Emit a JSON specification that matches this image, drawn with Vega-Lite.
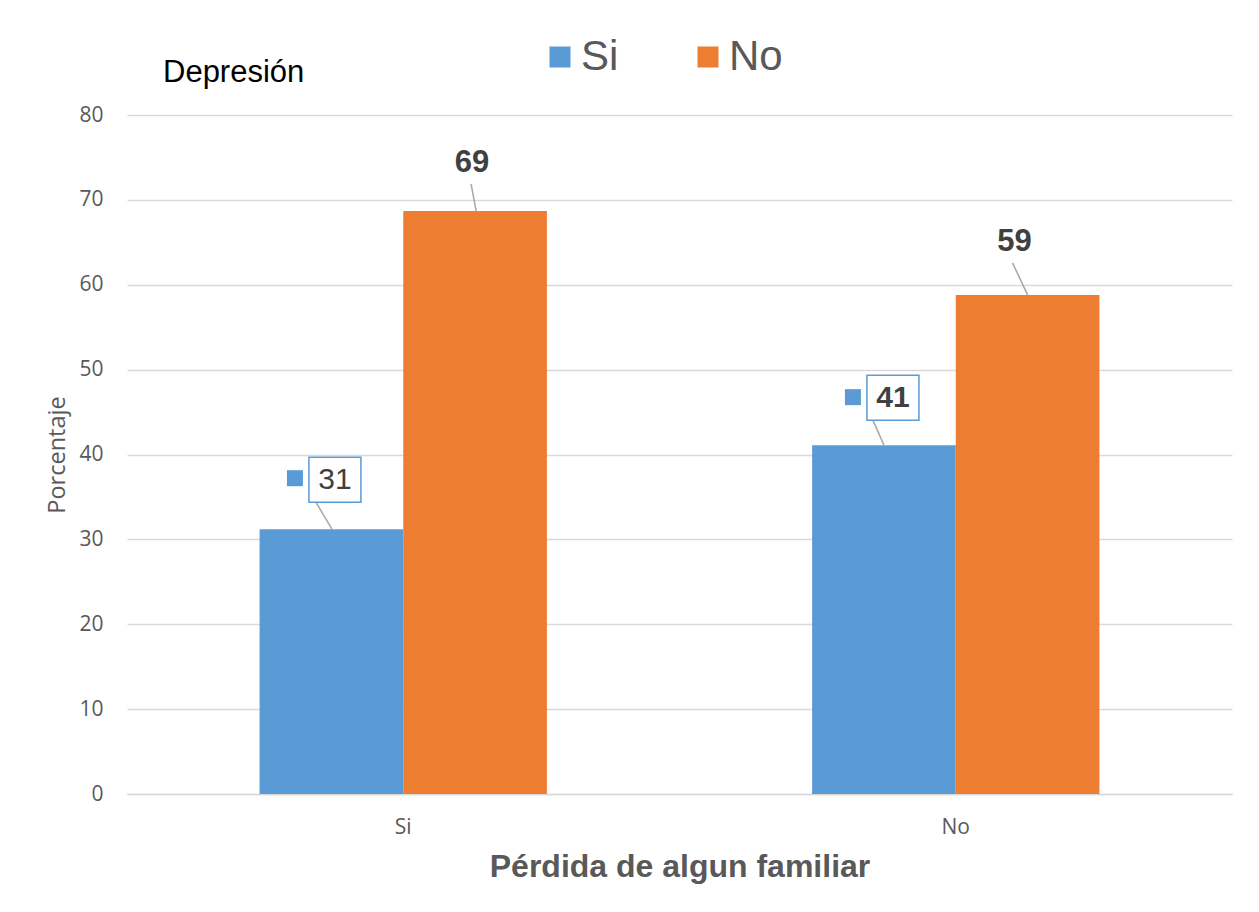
{
  "$schema": "https://vega.github.io/schema/vega-lite/v6.json",
  "width": 1105,
  "height": 679,
  "autosize": {"type": "none"},
  "padding": {"left": 127, "top": 115, "right": 27, "bottom": 118},
  "background": "#ffffff",
  "title": {
    "text": "Depresión",
    "anchor": "start",
    "frame": "group",
    "font": "Liberation Sans",
    "fontSize": 31,
    "fontWeight": "normal",
    "color": "#000000",
    "baseline": "alphabetic",
    "dx": 36,
    "offset": -77
  },
  "data": {
    "values": [
      {"grupo": "Si", "serie": "Si", "valor": 31.2},
      {"grupo": "Si", "serie": "No", "valor": 68.7},
      {"grupo": "No", "serie": "Si", "valor": 41.1},
      {"grupo": "No", "serie": "No", "valor": 58.8}
    ]
  },
  "encoding": {
    "y": {
      "field": "valor",
      "type": "quantitative",
      "scale": {"domain": [0, 80], "nice": false},
      "axis": {
        "title": "Porcentaje",
        "titleFont": "Open Sans",
        "titleFontSize": 23.5,
        "titleFontWeight": "normal",
        "titleColor": "#595959",
        "titlePadding": 9,
        "values": [0, 10, 20, 30, 40, 50, 60, 70, 80],
        "labelFont": "Open Sans",
        "labelFontSize": 21,
        "labelColor": "#595959",
        "labelPadding": 24,
        "ticks": false,
        "tickSize": 0,
        "domain": false,
        "gridColor": "#d9d9d9",
        "gridWidth": 1.5
      }
    }
  },
  "layer": [
    {
      "mark": {"type": "bar"},
      "encoding": {
        "x": {
          "field": "grupo",
          "type": "nominal",
          "sort": ["Si", "No"],
          "scale": {"paddingInner": 0.48, "paddingOuter": 0.24},
          "axis": {
            "title": "Pérdida de algun familiar",
            "titleFont": "Liberation Sans",
            "titleFontSize": 32,
            "titleFontWeight": "bold",
            "titleColor": "#595959",
            "titlePadding": 14,
            "labelFont": "Open Sans",
            "labelFontSize": 21,
            "labelColor": "#595959",
            "labelAngle": 0,
            "labelPadding": 22,
            "ticks": false,
            "tickSize": 0,
            "domainColor": "#d9d9d9",
            "domainWidth": 1.5
          }
        },
        "xOffset": {
          "field": "serie",
          "type": "nominal",
          "sort": ["Si", "No"],
          "scale": {"paddingInner": 0, "paddingOuter": 0}
        },
        "color": {
          "field": "serie",
          "type": "nominal",
          "sort": ["Si", "No"],
          "scale": {"domain": ["Si", "No"], "range": ["#5B9BD5", "#ED7D31"]},
          "legend": {
            "orient": "none",
            "direction": "horizontal",
            "legendX": 412,
            "legendY": -79,
            "title": null,
            "symbolType": "square",
            "symbolSize": 441,
            "symbolStrokeWidth": 0,
            "labelFont": "Liberation Sans",
            "labelFontSize": 42,
            "labelColor": "#595959",
            "labelOffset": 0,
            "columnPadding": 68,
            "padding": 0
          }
        }
      }
    },
    {
      "transform": [{"filter": "datum.grupo === 'Si' && datum.serie === 'Si'"}],
      "mark": {"type": "rule", "color": "#a6a6a6", "strokeWidth": 1.5, "xOffset": 0.5, "x2Offset": -15.5, "y2Offset": -27},
      "encoding": {
        "x": {"field": "grupo", "type": "nominal", "sort": ["Si", "No"], "bandPosition": 0.25},
        "x2": {"field": "grupo", "bandPosition": 0.25},
        "y2": {"field": "valor"}
      }
    },
    {
      "transform": [{"filter": "datum.grupo === 'No' && datum.serie === 'Si'"}],
      "mark": {"type": "rule", "color": "#a6a6a6", "strokeWidth": 1.5, "x2Offset": -11, "y2Offset": -25},
      "encoding": {
        "x": {"field": "grupo", "type": "nominal", "sort": ["Si", "No"], "bandPosition": 0.25},
        "x2": {"field": "grupo", "bandPosition": 0.25},
        "y2": {"field": "valor"}
      }
    },
    {
      "transform": [{"filter": "datum.grupo === 'Si' && datum.serie === 'No'"}],
      "mark": {"type": "rule", "color": "#a6a6a6", "strokeWidth": 1.5, "xOffset": 1, "x2Offset": -4, "y2Offset": -27},
      "encoding": {
        "x": {"field": "grupo", "type": "nominal", "sort": ["Si", "No"], "bandPosition": 0.75},
        "x2": {"field": "grupo", "bandPosition": 0.75},
        "y2": {"field": "valor"}
      }
    },
    {
      "transform": [{"filter": "datum.grupo === 'No' && datum.serie === 'No'"}],
      "mark": {"type": "rule", "color": "#a6a6a6", "strokeWidth": 1.5, "x2Offset": -15, "y2Offset": -32},
      "encoding": {
        "x": {"field": "grupo", "type": "nominal", "sort": ["Si", "No"], "bandPosition": 0.75},
        "x2": {"field": "grupo", "bandPosition": 0.75},
        "y2": {"field": "valor"}
      }
    },
    {
      "transform": [{"filter": "datum.grupo === 'Si' && datum.serie === 'Si'"}],
      "mark": {"type": "point", "shape": "M-1,-0.865H1V0.865H-1Z", "size": 2704, "filled": true, "fill": "#ffffff", "stroke": "#5B9BD5", "strokeWidth": 1.5, "opacity": 1, "xOffset": 3.5, "yOffset": -49.5},
      "encoding": {"x": {"field": "grupo", "type": "nominal", "sort": ["Si", "No"], "bandPosition": 0.25}}
    },
    {
      "transform": [{"filter": "datum.grupo === 'No' && datum.serie === 'Si'"}],
      "mark": {"type": "point", "shape": "M-1,-0.865H1V0.865H-1Z", "size": 2704, "filled": true, "fill": "#ffffff", "stroke": "#5B9BD5", "strokeWidth": 1.5, "opacity": 1, "xOffset": 9, "yOffset": -47.5},
      "encoding": {"x": {"field": "grupo", "type": "nominal", "sort": ["Si", "No"], "bandPosition": 0.25}}
    },
    {
      "transform": [{"filter": "datum.grupo === 'Si' && datum.serie === 'Si'"}],
      "mark": {"type": "point", "shape": "square", "size": 256, "filled": true, "fill": "#5B9BD5", "strokeWidth": 0, "opacity": 1, "xOffset": -36.5, "yOffset": -51},
      "encoding": {"x": {"field": "grupo", "type": "nominal", "sort": ["Si", "No"], "bandPosition": 0.25}}
    },
    {
      "transform": [{"filter": "datum.grupo === 'No' && datum.serie === 'Si'"}],
      "mark": {"type": "point", "shape": "square", "size": 256, "filled": true, "fill": "#5B9BD5", "strokeWidth": 0, "opacity": 1, "xOffset": -31, "yOffset": -48},
      "encoding": {"x": {"field": "grupo", "type": "nominal", "sort": ["Si", "No"], "bandPosition": 0.25}}
    },
    {
      "transform": [{"filter": "datum.grupo === 'Si' && datum.serie === 'Si'"}],
      "mark": {"type": "text", "font": "Liberation Sans", "fontSize": 30, "fontWeight": "normal", "color": "#404040", "align": "center", "baseline": "middle", "dx": 3.5, "dy": -49},
      "encoding": {
        "x": {"field": "grupo", "type": "nominal", "sort": ["Si", "No"], "bandPosition": 0.25},
        "text": {"field": "valor", "type": "quantitative", "format": ".0f"}
      }
    },
    {
      "transform": [{"filter": "datum.grupo === 'No' && datum.serie === 'Si'"}],
      "mark": {"type": "text", "font": "Liberation Sans", "fontSize": 30, "fontWeight": "bold", "color": "#404040", "align": "center", "baseline": "middle", "dx": 9, "dy": -47},
      "encoding": {
        "x": {"field": "grupo", "type": "nominal", "sort": ["Si", "No"], "bandPosition": 0.25},
        "text": {"field": "valor", "type": "quantitative", "format": ".0f"}
      }
    },
    {
      "transform": [{"filter": "datum.grupo === 'Si' && datum.serie === 'No'"}],
      "mark": {"type": "text", "font": "Liberation Sans", "fontSize": 31, "fontWeight": "bold", "color": "#404040", "align": "center", "baseline": "middle", "dx": -3, "dy": -48},
      "encoding": {
        "x": {"field": "grupo", "type": "nominal", "sort": ["Si", "No"], "bandPosition": 0.75},
        "text": {"field": "valor", "type": "quantitative", "format": ".0f"}
      }
    },
    {
      "transform": [{"filter": "datum.grupo === 'No' && datum.serie === 'No'"}],
      "mark": {"type": "text", "font": "Liberation Sans", "fontSize": 31, "fontWeight": "bold", "color": "#404040", "align": "center", "baseline": "middle", "dx": -13, "dy": -53},
      "encoding": {
        "x": {"field": "grupo", "type": "nominal", "sort": ["Si", "No"], "bandPosition": 0.75},
        "text": {"field": "valor", "type": "quantitative", "format": ".0f"}
      }
    }
  ],
  "config": {
    "view": {"stroke": null},
    "style": {"cell": {"stroke": null}}
  }
}
